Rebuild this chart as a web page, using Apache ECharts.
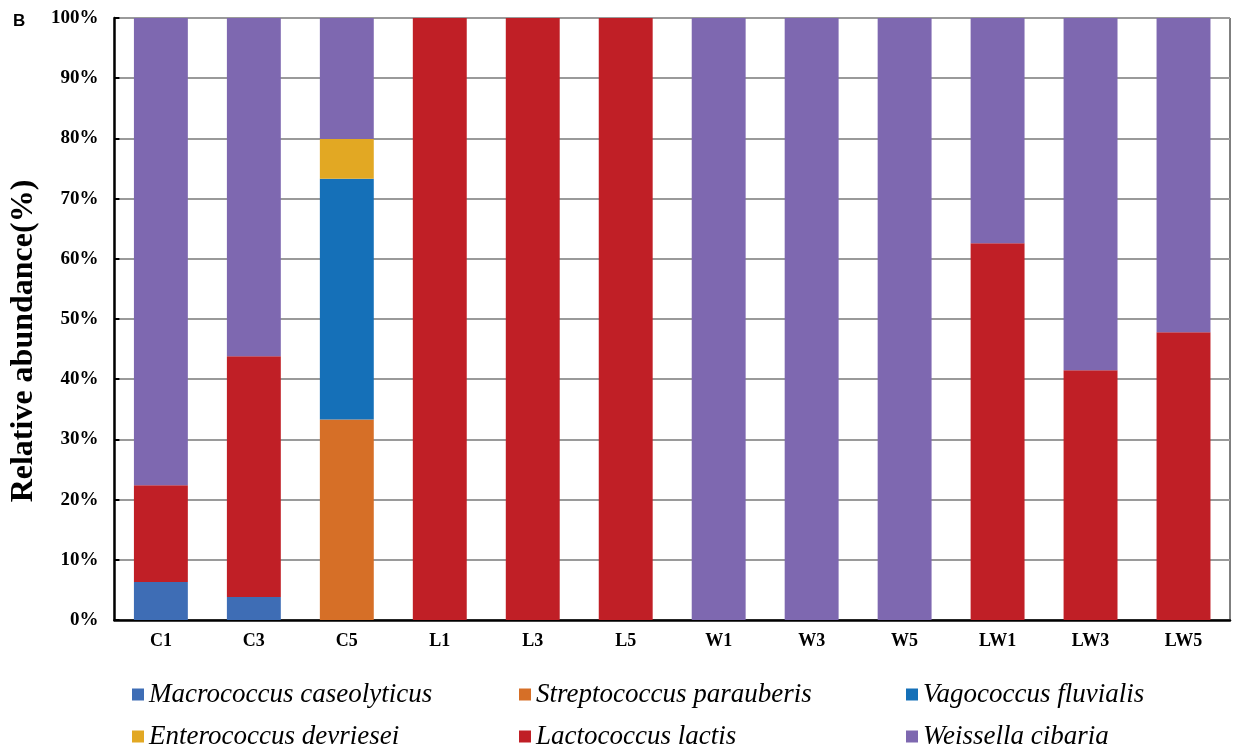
<!DOCTYPE html>
<html>
<head>
<meta charset="utf-8">
<script src="https://cdn.jsdelivr.net/npm/echarts@6/dist/echarts.min.js"></script>
<style>
html, body { margin: 0; padding: 0; background: #fff; }
#main { width: 1234px; height: 750px; }
</style>
</head>
<body>
<div id="main"></div>
<script>
var samples = ['C1', 'C3', 'C5', 'L1', 'L3', 'L5', 'W1', 'W3', 'W5', 'LW1', 'LW3', 'LW5'];
var macrococcus   = [6.3, 3.8, 0, 0, 0, 0, 0, 0, 0, 0, 0, 0];
var streptococcus = [0, 0, 33.3, 0, 0, 0, 0, 0, 0, 0, 0, 0];
var vagococcus    = [0, 0, 40.0, 0, 0, 0, 0, 0, 0, 0, 0, 0];
var enterococcus  = [0, 0, 6.6, 0, 0, 0, 0, 0, 0, 0, 0, 0];
var lactococcus   = [16.1, 40.0, 0, 100, 100, 100, 0, 0, 0, 62.6, 41.5, 47.8];
var weissella     = [77.6, 56.2, 20.1, 0, 0, 0, 100, 100, 100, 37.4, 58.5, 52.2];

var names = ['Macrococcus caseolyticus', 'Streptococcus parauberis', 'Vagococcus fluvialis',
             'Enterococcus devriesei', 'Lactococcus lactis', 'Weissella cibaria'];
var colors = ['#3e6db5', '#d66f27', '#1570b8', '#e2a823', '#c01f26', '#7e68b0'];
var values = [macrococcus, streptococcus, vagococcus, enterococcus, lactococcus, weissella];

var myChart = echarts.init(document.getElementById('main'));

var series = names.map(function (n, i) {
    return {
        name: n,
        type: 'bar',
        stack: 'total',
        barWidth: '58%',
        itemStyle: { color: colors[i] },
        data: values[i]
    };
});

// one legend per entry: 3 columns x 2 rows
var colLeft = [132, 519, 906];
var rowTop = [681, 723];
var legends = names.map(function (n, i) {
    return {
        left: colLeft[i % 3],
        top: rowTop[Math.floor(i / 3)],
        padding: 0,
        itemWidth: 12,
        itemHeight: 12,
        icon: 'rect',
        data: [n],
        textStyle: { fontFamily: 'Liberation Serif', fontStyle: 'italic', fontSize: 27, color: '#000' }
    };
});

option = {
    backgroundColor: '#fff',
    animation: false,
    title: {
        text: 'B',
        left: 8,
        top: 8,
        textStyle: { fontFamily: 'Liberation Sans', fontWeight: 'bold', fontSize: 17, color: '#000' }
    },
    legend: legends,
    grid: {
        left: 113, right: 4, top: 18, bottom: 130,
        show: true, borderColor: '#000', borderWidth: 1
    },
    xAxis: {
        type: 'category',
        data: samples,
        axisLine: { lineStyle: { color: '#000', width: 2.5 } },
        axisTick: { inside: true, length: 5, lineStyle: { color: '#000', width: 2 } },
        axisLabel: { fontFamily: 'Liberation Serif', fontWeight: 'bold', fontSize: 18, color: '#000', margin: 12 }
    },
    yAxis: {
        type: 'value',
        min: 0, max: 100, interval: 10,
        name: 'Relative abundance(%)',
        nameLocation: 'middle',
        nameGap: 68,
        nameTextStyle: { fontFamily: 'Liberation Serif', fontWeight: 'bold', fontSize: 32, color: '#000', padding: [0, 44, 0, 0] },
        axisLine: { show: true, lineStyle: { color: '#000', width: 2.5 } },
        axisTick: { show: true, inside: true, length: 5, lineStyle: { color: '#000', width: 2 } },
        axisLabel: { formatter: '{value}%', fontFamily: 'Liberation Serif', fontWeight: 'bold', fontSize: 19, color: '#000', margin: 16 },
        splitLine: { lineStyle: { color: '#9a9a9a', width: 2 } }
    },
    series: series
};
myChart.setOption(option);
</script>
</body>
</html>
